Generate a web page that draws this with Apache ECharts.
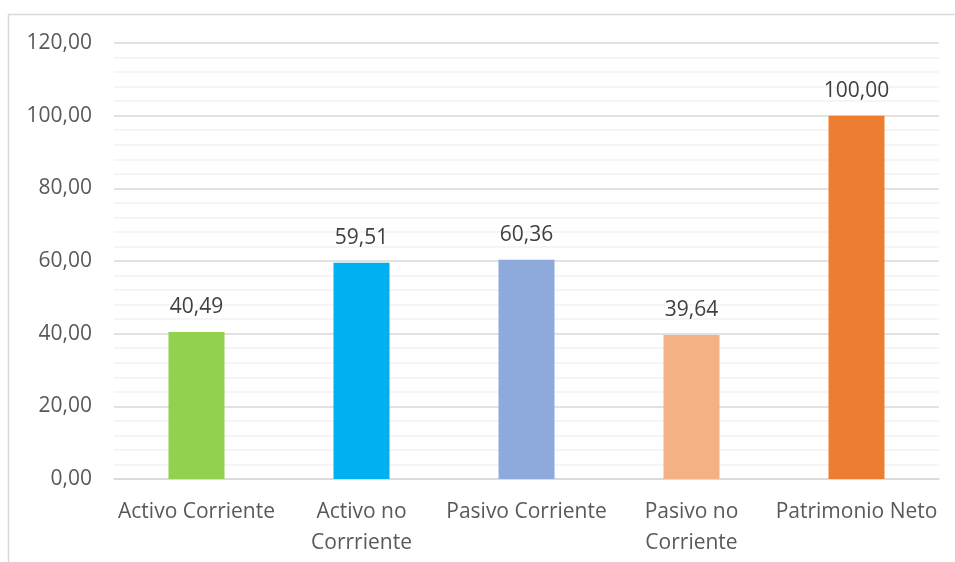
<!DOCTYPE html>
<html>
<head>
<meta charset="utf-8">
<script src="https://cdn.jsdelivr.net/npm/echarts@6/dist/echarts.min.js"></script>
<style>
  html, body { margin: 0; padding: 0; background: #fff; }
  #chart { width: 955px; height: 562px; }
</style>
</head>
<body>
<div id="chart"></div>
<script>
const categories = ['Activo Corriente', 'Activo no\nCorrriente', 'Pasivo Corriente', 'Pasivo no\nCorriente', 'Patrimonio Neto'];
const values = [40.49, 59.51, 60.36, 39.64, 100.00];
const barColors = ['#92D050', '#00B0F0', '#8EA9DB', '#F4B183', '#ED7D31'];

const fmt = v => Number(v).toFixed(2).replace('.', ',');
const font = '"Open Sans", "Liberation Sans", sans-serif';

const chart = echarts.init(document.getElementById('chart'), null, { renderer: 'canvas' });
chart.setOption({
  animation: false,
  backgroundColor: '#fff',
  graphic: [{
    type: 'rect',
    shape: { x: 8.5, y: 14.5, width: 960, height: 560 },
    style: { fill: 'none', stroke: '#d9d9d9', lineWidth: 1.5 },
    silent: true
  }],
  grid: { left: 114, right: 16, top: 43, bottom: 83, containLabel: false },
  xAxis: {
    type: 'category',
    data: categories,
    axisLine: { show: true, lineStyle: { color: '#d9d9d9', width: 1.5 } },
    axisTick: { show: false },
    axisLabel: {
      color: '#595959', fontFamily: font, fontSize: 21, margin: 18,
      lineHeight: 31, interval: 0
    }
  },
  yAxis: {
    type: 'value',
    min: 0, max: 120, interval: 20,
    axisLine: { show: false },
    axisTick: { show: false },
    axisLabel: { color: '#595959', fontFamily: font, fontSize: 21, margin: 22, formatter: fmt },
    splitLine: { show: true, lineStyle: { color: '#d9d9d9', width: 1.5 } },
    minorTick: { show: false, splitNumber: 5 },
    minorSplitLine: { show: true, lineStyle: { color: '#f2f2f2', width: 1.5 } }
  },
  series: [{
    type: 'bar',
    barWidth: 56,
    data: values.map((v, i) => ({ value: v, itemStyle: { color: barColors[i] } })),
    label: {
      show: true, position: 'top', distance: 14,
      color: '#404040', fontFamily: font, fontSize: 21,
      formatter: p => fmt(p.value)
    }
  }]
});
</script>
</body>
</html>
